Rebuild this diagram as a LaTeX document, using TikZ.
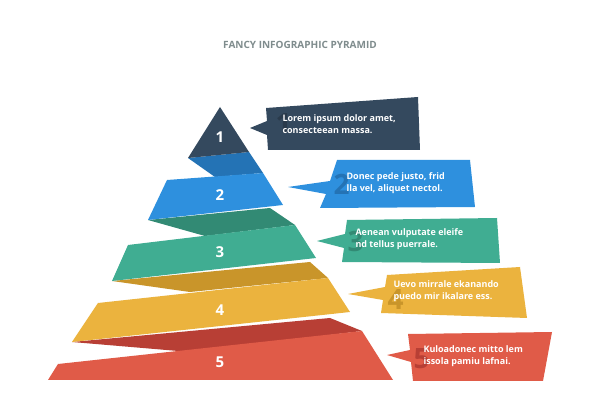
\documentclass[tikz,border=0pt]{standalone}
\usepackage{fontspec}
\setmainfont{Open Sans}
\definecolor{cA}{HTML}{34495E}\definecolor{cAd}{HTML}{2A3A4B}
\definecolor{cB}{HTML}{2E90DE}\definecolor{cBd}{HTML}{2473B5}
\definecolor{cC}{HTML}{40AD92}\definecolor{cCd}{HTML}{328A74}
\definecolor{cD}{HTML}{EBB33E}\definecolor{cDd}{HTML}{C9952A}
\definecolor{cE}{HTML}{E05B48}\definecolor{cEd}{HTML}{B83F35}
\definecolor{ttl}{HTML}{7F8C8D}
\tikzset{num/.style={text=white,font=\bfseries\fontsize{15}{15}\selectfont},
 txt/.style={text=white,font=\bfseries\fontsize{9}{12.5}\selectfont,align=left,anchor=west},
 ghost/.style={font=\bfseries\fontsize{28}{28}\selectfont,anchor=west}}
\begin{document}
\begin{tikzpicture}[x=1pt,y=-1pt]
\useasboundingbox (0,0) rectangle (600,419);
\fill[white] (0,0) rectangle (600,419);
\node[text=ttl,font=\bfseries\fontsize{10}{11}\selectfont] (title) at (300,45) {FANCY INFOGRAPHIC PYRAMID};
% band 5
\fill[cEd] (72,342) -- (330,318) -- (362,331) -- (190,352) -- cycle;
\fill[cE] (58,364) -- (362,331) -- (393,380) -- (48,380) -- cycle;
% band 4
\fill[cDd] (112,281) -- (310,262) -- (328,278) -- (190,292) -- cycle;
\fill[cD] (98,303) -- (328,278) -- (350,312) -- (72,342) -- cycle;
% band 3
\fill[cCd] (148,220) -- (270,208) -- (295,225) -- (205,236) -- cycle;
\fill[cC] (128,245) -- (295,225) -- (316,258) -- (112,281) -- cycle;
% band 2
\fill[cBd] (188,158) -- (249,152) -- (263,173) -- (215,177) -- cycle;
\fill[cB] (167,180) -- (263,173) -- (283,205) -- (148,220) -- cycle;
% band 1
\fill[cA] (220,107) -- (249,152) -- (188,158) -- cycle;
\node[num] (n1) at (220,137) {1};
\node[num] (n2) at (220,195) {2};
\node[num] (n3) at (220,252) {3};
\node[num] (n4) at (220,310) {4};
\node[num] (n5) at (220,362) {5};
% callouts
\fill[cA] (266,108) -- (418,97) -- (420,150) -- (268,150) -- (267,135) -- (250,128) -- (267,121) -- cycle;
\node[ghost,text=cAd] (g1) at (272,124) {1};
\node[txt] (t1) at (279,124) {Lorem ipsum dolor amet,\\consecteean massa.};
\fill[cB] (337,160) -- (470,160) -- (475,207) -- (320,208) -- (326,194) -- (288,187) -- (330,181) -- cycle;
\node[ghost,text=cBd] (g2) at (330,184) {2};
\node[txt] (t2) at (343,183) {Donec pede justo, frid\\lla vel, aliquet nectol.};
\fill[cC] (347,220) -- (497,218) -- (500,263) -- (342,262) -- (344,248) -- (317,241) -- (345,234) -- cycle;
\node[ghost,text=cCd] (g3) at (344,242) {3};
\node[txt] (t3) at (352,239) {Aenean vulputate eleife\\nd tellus puerrale.};
\fill[cD] (387,275) -- (520,267) -- (527,318) -- (381,313) -- (383,300) -- (348,294) -- (385,287) -- cycle;
\node[ghost,text=cDd] (g4) at (384,300) {4};
\node[txt] (t4) at (390,291) {Uevo mirrale ekanando\\puedo mir ikalare ess.};
\fill[cE] (408,334) -- (552,332) -- (543,381) -- (413,381) -- (411,362) -- (387,355) -- (410,350) -- cycle;
\node[ghost,text=cEd] (g5) at (410,359) {5};
\node[txt] (t5) at (420,356) {Kuloadonec mitto lem\\issola pamiu lafnai.};
\end{tikzpicture}
\end{document}
